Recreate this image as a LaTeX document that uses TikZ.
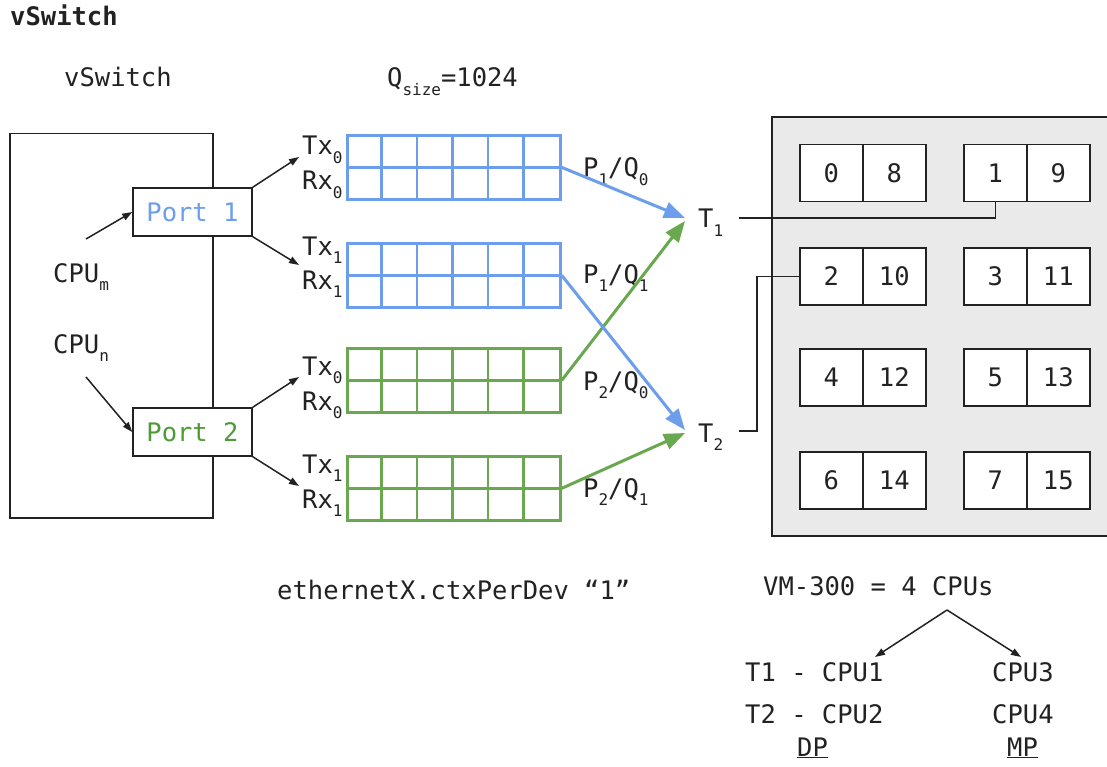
\documentclass[tikz,border=0pt]{standalone}
\usepackage{fontspec}
\setmainfont{DejaVu Sans Mono}
\usetikzlibrary{arrows.meta}
\definecolor{qblue}{HTML}{6D9EEB}
\definecolor{qgreen}{HTML}{6AA84F}
\definecolor{pgreen}{HTML}{4E9A35}
\definecolor{ln}{HTML}{222222}
\definecolor{panel}{HTML}{EAEAEA}
\newcommand\sbs[1]{\raisebox{-8.5pt}{\fontsize{16}{16}\selectfont #1}}
\newcommand\qgrid[3]{%
  \node[draw=#2, line width=2.7pt, minimum width=213pt, minimum height=64pt, inner sep=0pt, anchor=north west] (#1) at (346,#3) {};
  \foreach \i in {1,...,5} \draw[#2, line width=2.7pt] ([xshift=\i*35.5pt]#1.north west) -- ([xshift=\i*35.5pt]#1.south west);
  \draw[#2, line width=2.7pt] (#1.west) -- (#1.east);
}
\tikzset{
  txt/.style={inner sep=0pt, anchor=base west, font=\fontsize{25.5}{30}\selectfont, text=ln},
  thinarrow/.style={draw=ln, line width=1.5pt, -{Triangle[length=10pt,width=7pt]}},
  qarrow/.style={line width=3pt, -{Triangle[length=21pt,width=16pt]}},
  cell/.style={draw=ln, line width=1.5pt, fill=white, minimum width=63pt, minimum height=57pt, inner sep=0pt, anchor=north west, font=\fontsize{25.5}{30}\selectfont, text=ln},
  port/.style={draw=ln, line width=1.5pt, fill=white, minimum width=119pt, minimum height=48pt, inner sep=0pt, font=\fontsize{25.5}{30}\selectfont},
  wire/.style={draw=ln, line width=1.5pt}
}
\begin{document}
\begin{tikzpicture}[x=1pt,y=-1pt]
\useasboundingbox[fill=white] (0,0) rectangle (1107,767);

% titles
\node[txt, font=\fontsize{25.5}{30}\selectfont\bfseries] (title) at (10,26) {vSwitch};
\node[txt] (vsw) at (64,87) {vSwitch};
\node[txt] (qsize) at (387,87) {Q\sbs{size}=1024};

% vSwitch box
\node[wire, minimum width=203pt, minimum height=384pt, inner sep=0pt, anchor=north west] (box) at (9,133) {};
\node[port, text=qblue] (p1) at (192.5,212) {Port 1};
\node[port, text=pgreen] (p2) at (192.5,432) {Port 2};

\node[txt] (cpum) at (53,282) {CPU\sbs{m}};
\node[txt] (cpun) at (53,353) {CPU\sbs{n}};
\coordinate (cm) at (86,239);
\coordinate (cn) at (86,377);
\draw[thinarrow] (cm) -- (p1.west);
\draw[thinarrow] (cn) -- (p2.west);

% queues
\qgrid{q1}{qblue}{134}
\qgrid{q2}{qblue}{242}
\qgrid{q3}{qgreen}{347}
\qgrid{q4}{qgreen}{455}

\node[txt] (tx0a) at (302,155) {Tx\sbs{0}};
\node[txt] (rx0a) at (302,190) {Rx\sbs{0}};
\node[txt] (tx1a) at (302,255) {Tx\sbs{1}};
\node[txt] (rx1a) at (302,289) {Rx\sbs{1}};
\node[txt] (tx0b) at (302,375) {Tx\sbs{0}};
\node[txt] (rx0b) at (302,410) {Rx\sbs{0}};
\node[txt] (tx1b) at (302,473) {Tx\sbs{1}};
\node[txt] (rx1b) at (302,508) {Rx\sbs{1}};

\coordinate (a1) at (299,157);
\coordinate (a2) at (299,265);
\coordinate (a3) at (299,377);
\coordinate (a4) at (299,486);
\draw[thinarrow] (p1.north east) -- (a1);
\draw[thinarrow] (p1.south east) -- (a2);
\draw[thinarrow] (p2.north east) -- (a3);
\draw[thinarrow] (p2.south east) -- (a4);

% P/Q labels
\node[txt] (l1) at (583,177) {P\sbs{1}/Q\sbs{0}};
\node[txt] (l2) at (583,283) {P\sbs{1}/Q\sbs{1}};
\node[txt] (l3) at (583,390) {P\sbs{2}/Q\sbs{0}};
\node[txt] (l4) at (583,497) {P\sbs{2}/Q\sbs{1}};

% T1 / T2
\coordinate (t1in) at (685,218);
\coordinate (t1inb) at (685,221);
\coordinate (t2in) at (685,430);
\coordinate (t2inb) at (685,433);
\node[txt] (t1) at (698,228) {T\sbs{1}};
\node[txt] (t2) at (698,442) {T\sbs{2}};

\draw[qarrow, qblue] (q1.east) -- (t1in);
\draw[qarrow, qgreen] (q3.east) -- (t1inb);
\draw[qarrow, qblue] (q2.east) -- (t2in);
\draw[qarrow, qgreen] (q4.east) -- (t2inb);

% CPU panel
\draw[wire, fill=panel] (772,117) rectangle (1125,536);
\foreach \a/\b/\x/\y in {0/8/799/144, 1/9/963/144, 2/10/799/247, 3/11/963/247, 4/12/799/348, 5/13/963/348, 6/14/799/451, 7/15/963/451}{
  \node[cell] (c\a) at (\x,\y) {\a};
  \node[cell] (c\b) at (\x+63,\y) {\b};
}

\coordinate (t1out) at (739,218);
\coordinate (t2out) at (739,431);
\draw[wire] (t1out) -| (c1.south);
\draw[wire] (t2out) -- ++(18,0) |- (c2.west);

% bottom texts
\node[txt] (eth) at (277,599) {ethernetX.ctxPerDev “1”};
\node[txt] (vm) at (763,595) {VM-300 = 4 CPUs};
\node[txt] (dp1) at (745,681) {T1 - CPU1};
\node[txt] (dp2) at (745,723) {T2 - CPU2};
\node[txt] (mp1) at (992,681) {CPU3};
\node[txt] (mp2) at (992,723) {CPU4};
\node[txt] (dp) at (797,756) {\underline{DP}};
\node[txt] (mp) at (1007,756) {\underline{MP}};

\coordinate (split) at (947,610);
\coordinate (dptip) at (875,657);
\coordinate (mptip) at (1021,657);
\draw[thinarrow] (split) -- (dptip);
\draw[thinarrow] (split) -- (mptip);
\end{tikzpicture}
\end{document}
